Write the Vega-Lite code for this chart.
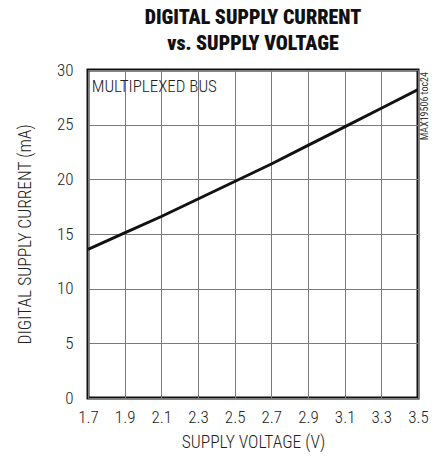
{
  "$schema": "https://vega.github.io/schema/vega-lite/v6.json",
  "width": 330,
  "height": 328,
  "padding": {"left": 16, "top": 8, "right": 5, "bottom": 5},
  "title": {
    "text": ["DIGITAL SUPPLY CURRENT", "vs. SUPPLY VOLTAGE"],
    "font": "'Roboto Condensed', 'DejaVu Sans Condensed', Roboto, sans-serif",
    "fontSize": 20,
    "fontWeight": 900,
    "color": "#111111",
    "anchor": "middle",
    "lineHeight": 26,
    "offset": 7
  },
  "config": {
    "view": {"stroke": "#111111", "strokeWidth": 3},
    "font": "'Roboto Condensed', Roboto, sans-serif",
    "axis": {
      "labelFont": "'Roboto Condensed', Roboto, sans-serif",
      "titleFont": "'Roboto Condensed', Roboto, sans-serif",
      "labelFontSize": 17,
      "titleFontSize": 17.5,
      "titleFontWeight": 300,
      "labelFontWeight": 300,
      "labelColor": "#222222",
      "titleColor": "#222222",
      "labelOverlap": false,
      "labelFlush": false,
      "tickCount": 30,
      "grid": true,
      "gridColor": "#7a7a7a",
      "gridWidth": 1,
      "gridOpacity": 1,
      "domain": false,
      "ticks": false
    }
  },
  "datasets": {
    "curve": [
      {"v": 1.7, "i": 13.6},
      {"v": 1.9, "i": 15.1},
      {"v": 2.1, "i": 16.6},
      {"v": 2.3, "i": 18.2},
      {"v": 2.5, "i": 19.8},
      {"v": 2.7, "i": 21.4},
      {"v": 2.9, "i": 23.1},
      {"v": 3.1, "i": 24.8},
      {"v": 3.3, "i": 26.5},
      {"v": 3.5, "i": 28.2}
    ],
    "labels": [
      {"v": 1.72, "i": 28.4, "t": "MULTIPLEXED BUS"}
    ],
    "tag": [
      {"v": 3.5, "i": 30, "t": "MAX19506 toc24"}
    ]
  },
  "layer": [
    {
      "data": {"name": "curve"},
      "mark": {"type": "line", "color": "#111111", "strokeWidth": 3, "clip": true},
      "encoding": {
        "x": {
          "field": "v", "type": "quantitative",
          "scale": {"domain": [1.7, 3.5], "nice": false, "zero": false},
          "axis": {
            "title": "SUPPLY VOLTAGE (V)",
            "values": [1.7, 1.9, 2.1, 2.3, 2.5, 2.7, 2.9, 3.1, 3.3, 3.5],
            "tickCount": 30,
            "format": ".1f",
            "labelPadding": 11,
            "titlePadding": 8
          }
        },
        "y": {
          "field": "i", "type": "quantitative",
          "scale": {"domain": [0, 30], "nice": false},
          "axis": {
            "title": "DIGITAL SUPPLY CURRENT (mA)",
            "values": [0, 5, 10, 15, 20, 25, 30],
            "tickCount": 30,
            "labelPadding": 15,
            "titlePadding": 22
          }
        }
      }
    },
    {
      "data": {"name": "labels"},
      "mark": {"type": "text", "align": "left", "baseline": "middle", "font": "'Roboto Condensed', Roboto, sans-serif", "fontSize": 17, "fontWeight": 300, "color": "#222222"},
      "encoding": {
        "x": {"field": "v", "type": "quantitative"},
        "y": {"field": "i", "type": "quantitative"},
        "text": {"field": "t"}
      }
    },
    {
      "data": {"name": "tag"},
      "mark": {"type": "text", "angle": 270, "align": "right", "baseline": "middle", "font": "'Roboto Condensed', Roboto, sans-serif", "fontSize": 10, "color": "#333333", "xOffset": 7, "yOffset": 2},
      "encoding": {
        "x": {"field": "v", "type": "quantitative"},
        "y": {"field": "i", "type": "quantitative"},
        "text": {"field": "t"}
      }
    }
  ]
}
